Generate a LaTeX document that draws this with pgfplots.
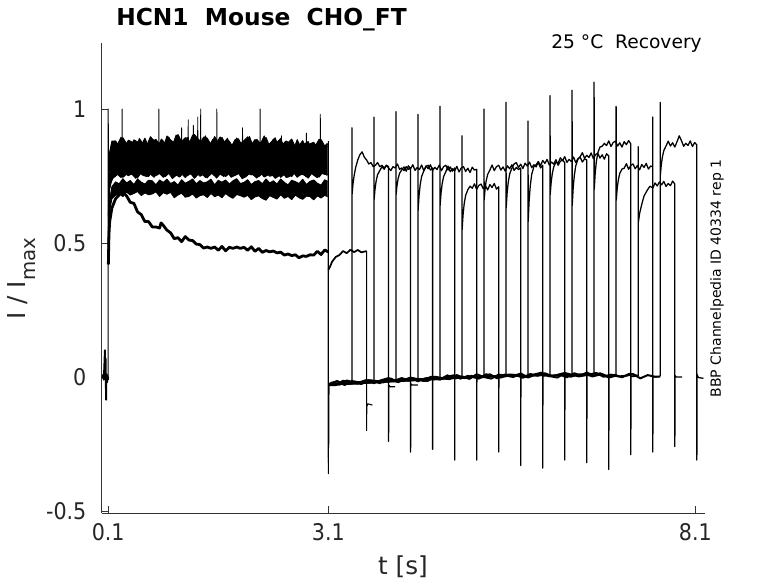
\documentclass[border=0pt]{standalone}
\usepackage{fontspec}
\setmainfont{DejaVu Sans}
\newfontfamily\condfont[FakeStretch=0.9]{DejaVu Sans}
\usepackage{pgfplots}
\pgfplotsset{compat=1.18}
\usepackage{pgfplotstable}
\usepgfplotslibrary{fillbetween}

\pgfplotstableread{
t U L A B
0.102 0.60 0.50 0.48 0.46
0.12 0.84 0.70 0.66 0.62
0.15 0.88 0.74 0.71 0.665
0.20 0.881 0.749 0.728 0.678
0.25 0.861 0.765 0.721 0.684
0.30 0.893 0.745 0.740 0.673
0.35 0.871 0.757 0.724 0.690
0.40 0.857 0.762 0.733 0.679
0.45 0.885 0.750 0.718 0.685
0.50 0.877 0.743 0.739 0.692
0.55 0.865 0.763 0.727 0.677
0.60 0.891 0.755 0.720 0.687
0.65 0.859 0.748 0.734 0.680
0.70 0.879 0.767 0.732 0.683
0.75 0.887 0.751 0.717 0.691
0.80 0.867 0.760 0.735 0.674
0.85 0.855 0.745 0.726 0.688
0.90 0.899 0.766 0.738 0.682
0.95 0.885 0.754 0.722 0.689
1.00 0.873 0.747 0.729 0.669
1.05 0.905 0.761 0.716 0.679
1.10 0.879 0.759 0.736 0.686
1.15 0.893 0.744 0.723 0.671
1.20 0.869 0.762 0.730 0.674
1.25 0.903 0.753 0.739 0.683
1.30 0.883 0.765 0.721 0.668
1.35 0.871 0.749 0.733 0.677
1.40 0.895 0.756 0.724 0.680
1.45 0.891 0.743 0.728 0.670
1.50 0.867 0.763 0.738 0.685
1.55 0.897 0.750 0.717 0.673
1.60 0.874 0.757 0.734 0.679
1.65 0.894 0.766 0.727 0.669
1.70 0.868 0.748 0.735 0.685
1.75 0.880 0.760 0.720 0.674
1.80 0.858 0.751 0.732 0.667
1.85 0.892 0.755 0.740 0.681
1.90 0.870 0.765 0.722 0.677
1.95 0.882 0.744 0.726 0.671
2.00 0.896 0.761 0.736 0.678
2.05 0.866 0.754 0.718 0.662
2.10 0.886 0.762 0.729 0.672
2.15 0.872 0.747 0.733 0.676
2.20 0.878 0.759 0.721 0.666
2.25 0.894 0.767 0.739 0.660
2.30 0.860 0.749 0.724 0.677
2.35 0.888 0.753 0.732 0.670
2.40 0.876 0.763 0.720 0.664
2.45 0.890 0.745 0.739 0.680
2.50 0.854 0.756 0.726 0.667
2.55 0.874 0.760 0.717 0.674
2.60 0.888 0.748 0.734 0.662
2.65 0.858 0.766 0.729 0.679
2.70 0.864 0.751 0.722 0.669
2.75 0.882 0.759 0.738 0.663
2.80 0.852 0.747 0.718 0.675
2.85 0.870 0.766 0.730 0.673
2.90 0.876 0.753 0.735 0.661
2.95 0.856 0.744 0.723 0.676
3.00 0.886 0.761 0.716 0.668
3.05 0.862 0.756 0.736 0.678
3.09 0.870 0.755 0.730 0.673
}\condtab

\pgfplotstableread{
t U L
0.13 0.85 0.72
0.175 0.872 0.748
0.225 0.868 0.756
0.275 0.895 0.744
0.325 0.862 0.759
0.375 0.884 0.751
0.425 0.877 0.758
0.475 0.857 0.741
0.525 0.890 0.762
0.575 0.871 0.752
0.625 0.864 0.748
0.675 0.897 0.757
0.725 0.882 0.745
0.775 0.860 0.763
0.825 0.888 0.754
0.875 0.873 0.747
0.925 0.896 0.760
0.975 0.865 0.740
1.025 0.903 0.753
1.075 0.885 0.746
1.125 0.878 0.762
1.175 0.894 0.750
1.225 0.872 0.759
1.275 0.905 0.741
1.325 0.889 0.756
1.375 0.876 0.758
1.425 0.900 0.744
1.475 0.863 0.751
1.525 0.887 0.763
1.575 0.874 0.742
1.625 0.896 0.757
1.675 0.874 0.748
1.725 0.891 0.764
1.775 0.858 0.745
1.825 0.885 0.752
1.875 0.889 0.760
1.925 0.863 0.740
1.975 0.876 0.747
2.025 0.898 0.759
2.075 0.860 0.754
2.125 0.887 0.742
2.175 0.871 0.762
2.225 0.900 0.746
2.275 0.865 0.753
2.325 0.878 0.758
2.375 0.893 0.741
2.425 0.856 0.750
2.475 0.869 0.763
2.525 0.881 0.744
2.575 0.872 0.748
2.625 0.850 0.763
2.675 0.886 0.745
2.725 0.857 0.757
2.775 0.870 0.753
2.825 0.879 0.742
2.875 0.848 0.760
2.925 0.864 0.750
2.975 0.888 0.746
3.025 0.853 0.764
3.085 0.872 0.752
}\condtabb

\begin{document}
\begin{tikzpicture}
\begin{axis}[
  at={(0pt,0pt)}, anchor=south west,
  scale only axis, width=452.475pt, height=352.5pt,
  xmin=0.0114, xmax=8.231, ymin=-0.5075, ymax=1.2463,
  axis x line*=bottom, axis y line*=left,
  axis line style={black!80, line width=0.5pt},
  tick align=inside, major tick length=5pt,
  tick style={black!80, line width=0.5pt},
  xtick={0.1,3.1,8.1}, xticklabels={0.1,3.1,8.1},
  ytick={-0.5,0,0.5,1}, yticklabels={-0.5,0,0.5,1},
  ticklabel style={font=\condfont\fontsize{17.2}{20}\selectfont, text=black!85},
  yticklabel style={xshift=-8pt},
  xticklabel style={yshift=-4pt},
  xlabel={t [s]},
  xlabel style={at={(axis description cs:0.4994,-0.1319)}, anchor=base, font=\fontsize{18.5}{22}\selectfont, text=black!85},
  ylabel={I / I\raisebox{-0.44em}{\fontsize{14.8}{16}\selectfont max}},
  ylabel style={at={(axis description cs:-0.1271,0.4989)}, anchor=base, rotate=0, font=\fontsize{18.5}{22}\selectfont, text=black!85},
  clip mode=individual,
  cycle list={{black}},
  no markers,
  every axis plot/.append style={black, line width=0.95pt, line join=round},
]
% conditioning band
\addplot[name path=U, line width=0.7pt] table[x=t,y=U]{\condtab};
\addplot[name path=L, line width=0.7pt] table[x=t,y=L]{\condtab};
\addplot[black] fill between[of=U and L];
\addplot[name path=U2, line width=0.6pt] table[x=t,y=U]{\condtabb};
\addplot[name path=L2, line width=0.6pt] table[x=t,y=L]{\condtabb};
\addplot[black] fill between[of=U2 and L2];
\addplot[name path=A, line width=0.7pt] table[x=t,y=A]{\condtab};
\addplot[name path=B, line width=0.7pt] table[x=t,y=B]{\condtab};
\addplot[black] fill between[of=A and B];
% spikes during conditioning
\addplot[line width=0.6pt] coordinates {(0.2,0.86)(0.287,0.86)(0.29,1.0)(0.293,0.86)(0.787,0.86)(0.79,1.0)(0.793,0.86)(1.097,0.86)(1.10,0.93)(1.103,0.86)(1.187,0.86)(1.19,0.96)(1.193,0.86)(1.257,0.86)(1.26,0.94)(1.263,0.86)(1.317,0.86)(1.32,0.97)(1.323,0.86)(1.357,0.86)(1.36,1.0)(1.363,0.86)(1.577,0.86)(1.58,1.0)(1.583,0.86)(1.927,0.86)(1.93,0.93)(1.933,0.86)(2.167,0.86)(2.17,1.0)(2.173,0.86)(2.457,0.86)(2.46,0.90)(2.463,0.86)(2.797,0.86)(2.80,0.91)(2.803,0.86)(2.987,0.86)(2.99,0.98)(2.993,0.86)(3.09,0.86)};
% pre-pulse baseline and onset
\addplot[line width=1.4pt] coordinates {(0.015,-0.005)(0.03,0.008)(0.04,-0.01)(0.05,0.06)(0.055,0.10)(0.06,0.02)(0.064,0.07)(0.068,-0.02)(0.071,-0.085)(0.074,-0.01)(0.08,0.01)(0.085,-0.02)(0.09,0.005)(0.095,-0.01)(0.1,0.0)};
\addplot[line width=0.8pt] coordinates {(0.1,0.0)(0.1,1.0)(0.102,0.42)(0.11,0.53)(0.12,0.58)(0.15,0.63)(0.2,0.665)(0.25,0.68)(0.3,0.69)};
% decaying sweep
\addplot[line width=2.1pt] coordinates {(0.102,0.42)(0.11,0.53)(0.12,0.58)(0.15,0.63)(0.2,0.665)(0.25,0.68)(0.30,0.690)(0.35,0.676)(0.40,0.652)(0.45,0.648)(0.50,0.616)(0.55,0.606)(0.60,0.580)(0.65,0.580)(0.70,0.560)(0.75,0.560)(0.80,0.556)(0.82,0.575)(0.85,0.566)(0.90,0.548)(0.95,0.538)(1.00,0.516)(1.05,0.520)(1.10,0.505)(1.15,0.524)(1.20,0.511)(1.25,0.509)(1.30,0.496)(1.35,0.494)(1.40,0.481)(1.45,0.485)(1.50,0.480)(1.55,0.485)(1.60,0.473)(1.65,0.487)(1.70,0.471)(1.75,0.484)(1.80,0.480)(1.85,0.485)(1.90,0.480)(1.95,0.484)(2.00,0.473)(2.05,0.486)(2.10,0.469)(2.15,0.480)(2.20,0.465)(2.25,0.472)(2.30,0.467)(2.35,0.470)(2.40,0.463)(2.45,0.466)(2.50,0.455)(2.55,0.459)(2.60,0.453)(2.65,0.456)(2.70,0.445)(2.75,0.452)(2.80,0.450)(2.85,0.456)(2.90,0.455)(2.95,0.469)(3.00,0.457)(3.05,0.474)(3.09,0.468)(3.1,0.47)};
\addplot[line width=0.8pt] coordinates {(3.1,0.47)(3.1,-0.36)(3.1,0.40)};
\addplot[line width=1.3pt] coordinates {(3.1,0.40)(3.12,0.41)(3.15,0.43)(3.2,0.448)(3.25,0.455)(3.3,0.47)(3.35,0.462)(3.4,0.475)(3.45,0.466)(3.5,0.474)(3.55,0.465)(3.62,0.47)};
\addplot[line width=0.8pt] coordinates {(3.62,0.47)(3.62,-0.20)(3.623,-0.11)(3.64,-0.10)(3.70,-0.105)};
% sweeps with test pulses
\addplot coordinates {(3.103,-0.03)(3.2,-0.022)(3.3,-0.026)(3.42,-0.02)(3.42,0.93)(3.422,0.68)(3.435,0.72)(3.45,0.75)(3.47,0.78)(3.50,0.81)(3.53,0.83)(3.56,0.84)(3.59,0.82)(3.62,0.81)(3.65,0.795)(3.68,0.80)(3.71,0.785)(3.74,0.79)(3.77,0.80)(3.80,0.785)(3.83,0.79)(3.86,0.78)(3.89,0.79)(3.92,0.785)(3.92,-0.24)(3.923,-0.03)(3.94,-0.036)(4.01,-0.036)};
\addplot coordinates {(3.103,-0.028)(3.3,-0.02)(3.5,-0.024)(3.72,-0.017)(3.72,0.97)(3.722,0.66)(3.735,0.70)(3.75,0.73)(3.77,0.755)(3.80,0.77)(3.83,0.785)(3.86,0.775)(3.89,0.79)(3.92,0.78)(3.95,0.77)(3.98,0.785)(4.01,0.78)(4.04,0.795)(4.07,0.775)(4.10,0.78)(4.13,0.77)(4.16,0.785)(4.19,0.775)(4.22,0.78)(4.22,-0.28)(4.223,-0.025)(4.24,-0.03)(4.32,-0.03)};
\addplot coordinates {(3.103,-0.03)(3.5,-0.02)(4.02,-0.012)(4.02,0.99)(4.022,0.68)(4.035,0.715)(4.05,0.74)(4.07,0.76)(4.10,0.773)(4.13,0.784)(4.16,0.768)(4.19,0.788)(4.22,0.777)(4.25,0.792)(4.28,0.771)(4.31,0.782)(4.34,0.774)(4.37,0.791)(4.40,0.77)(4.43,0.785)(4.46,0.79)(4.49,0.772)(4.52,0.78)(4.52,-0.27)(4.523,-0.005)(4.54,-0.01)(4.62,-0.008)};
\addplot coordinates {(3.103,-0.03)(3.6,-0.018)(4.32,-0.008)(4.32,0.98)(4.322,0.62)(4.335,0.676)(4.35,0.716)(4.37,0.748)(4.40,0.769)(4.43,0.788)(4.46,0.777)(4.49,0.792)(4.52,0.771)(4.55,0.782)(4.58,0.774)(4.61,0.791)(4.64,0.77)(4.67,0.785)(4.70,0.79)(4.73,0.772)(4.76,0.784)(4.79,0.768)(4.82,0.78)(4.82,-0.31)(4.823,0.0)(4.84,-0.005)(4.92,-0.004)};
\addplot coordinates {(3.103,-0.03)(3.8,-0.015)(4.62,-0.004)(4.62,1.01)(4.622,0.64)(4.635,0.687)(4.65,0.721)(4.67,0.748)(4.70,0.766)(4.73,0.787)(4.76,0.766)(4.79,0.777)(4.82,0.769)(4.85,0.786)(4.88,0.765)(4.91,0.78)(4.94,0.785)(4.97,0.767)(5.00,0.779)(5.03,0.763)(5.06,0.783)(5.09,0.772)(5.12,0.775)(5.12,-0.31)(5.123,0.0)(5.14,-0.003)(5.22,-0.002)};
\addplot coordinates {(3.103,-0.03)(4.0,-0.012)(4.92,-0.001)(4.92,0.90)(4.922,0.55)(4.935,0.606)(4.95,0.646)(4.97,0.678)(5.00,0.699)(5.03,0.712)(5.06,0.704)(5.09,0.721)(5.12,0.70)(5.15,0.715)(5.18,0.72)(5.21,0.702)(5.24,0.714)(5.27,0.698)(5.30,0.718)(5.33,0.707)(5.36,0.722)(5.39,0.701)(5.42,0.71)(5.42,-0.28)(5.423,0.002)(5.44,0.0)(5.52,0.001)};
\addplot coordinates {(3.103,-0.03)(4.2,-0.009)(5.22,0.002)(5.22,1.00)(5.222,0.66)(5.235,0.702)(5.25,0.732)(5.27,0.756)(5.30,0.772)(5.33,0.791)(5.36,0.77)(5.39,0.785)(5.42,0.79)(5.45,0.772)(5.48,0.784)(5.51,0.768)(5.54,0.788)(5.57,0.777)(5.60,0.792)(5.63,0.771)(5.66,0.782)(5.69,0.774)(5.72,0.78)(5.72,-0.33)(5.723,0.004)(5.74,0.002)(5.82,0.003)};
\addplot coordinates {(3.103,-0.03)(4.5,-0.005)(5.52,0.004)(5.52,1.025)(5.522,0.63)(5.535,0.686)(5.55,0.726)(5.57,0.758)(5.60,0.779)(5.63,0.795)(5.66,0.80)(5.69,0.782)(5.72,0.794)(5.75,0.778)(5.78,0.798)(5.81,0.787)(5.84,0.802)(5.87,0.781)(5.90,0.792)(5.93,0.784)(5.96,0.801)(5.99,0.78)(6.02,0.79)(6.02,-0.34)(6.023,0.006)(6.04,0.004)(6.12,0.005)};
\addplot coordinates {(3.103,-0.03)(4.8,-0.002)(5.82,0.006)(5.82,0.955)(5.822,0.58)(5.835,0.657)(5.85,0.712)(5.87,0.756)(5.90,0.785)(5.93,0.792)(5.96,0.804)(5.99,0.788)(6.02,0.808)(6.05,0.797)(6.08,0.812)(6.11,0.791)(6.14,0.802)(6.17,0.794)(6.20,0.811)(6.23,0.79)(6.26,0.805)(6.29,0.81)(6.32,0.80)(6.32,-0.31)(6.323,0.008)(6.34,0.006)(6.42,0.007)};
\addplot coordinates {(3.103,-0.03)(5.0,0.0)(6.12,0.007)(6.12,1.05)(6.122,0.68)(6.135,0.726)(6.15,0.758)(6.17,0.784)(6.20,0.801)(6.23,0.798)(6.26,0.818)(6.29,0.807)(6.32,0.822)(6.35,0.801)(6.38,0.812)(6.41,0.804)(6.44,0.821)(6.47,0.80)(6.50,0.815)(6.53,0.82)(6.56,0.802)(6.59,0.814)(6.62,0.81)(6.62,-0.32)(6.623,0.008)(6.64,0.006)(6.72,0.007)};
\addplot coordinates {(3.103,-0.03)(5.2,0.002)(6.42,0.008)(6.42,1.07)(6.422,0.64)(6.435,0.705)(6.45,0.751)(6.47,0.788)(6.50,0.812)(6.53,0.822)(6.56,0.837)(6.59,0.816)(6.62,0.827)(6.65,0.819)(6.68,0.836)(6.71,0.815)(6.74,0.83)(6.77,0.835)(6.80,0.817)(6.83,0.829)(6.86,0.813)(6.89,0.833)(6.92,0.825)(6.92,-0.345)(6.923,0.006)(6.94,0.004)(7.02,0.005)};
\addplot coordinates {(3.103,-0.03)(5.5,0.004)(6.72,0.007)(6.72,1.10)(6.722,0.70)(6.735,0.76)(6.75,0.802)(6.77,0.836)(6.80,0.858)(6.83,0.861)(6.86,0.872)(6.89,0.864)(6.92,0.881)(6.95,0.86)(6.98,0.875)(7.01,0.88)(7.04,0.862)(7.07,0.874)(7.10,0.858)(7.13,0.878)(7.16,0.867)(7.19,0.882)(7.22,0.87)(7.22,-0.29)(7.223,0.004)(7.24,0.002)(7.32,0.003)};
% sweep 13
\addplot[line width=0.8pt] coordinates {(3.1,0.80)(3.1,-0.3)(3.105,-0.028)};
\addplot[line width=1.5pt] coordinates {(3.105,-0.028)(3.12,-0.025)(3.22,-0.015)(3.32,-0.030)(3.42,-0.015)(3.52,-0.020)(3.62,-0.012)(3.72,-0.023)(3.82,-0.012)(3.92,-0.004)(4.02,-0.017)(4.12,-0.013)(4.22,-0.002)(4.32,-0.016)(4.42,-0.005)(4.52,-0.001)(4.62,-0.010)(4.72,0.006)(4.82,-0.005)(4.92,0.002)(5.02,-0.007)(5.12,0.010)(5.22,0.0)(5.32,-0.006)(5.42,0.009)(5.52,0.005)(5.62,0.0)(5.72,0.013)(5.82,-0.002)(5.92,0.009)(6.02,0.013)(6.12,0.003)(6.22,-0.002)(6.32,0.015)(6.42,0.008)(6.52,0.002)(6.62,0.017)(6.72,0.004)(6.82,0.010)(6.92,-0.002)(7.02,0.005)};
\addplot coordinates {(7.02,0.005)(7.02,1.01)(7.022,0.66)(7.035,0.704)(7.05,0.735)(7.07,0.76)(7.10,0.776)(7.13,0.779)(7.16,0.796)(7.19,0.775)(7.22,0.79)(7.25,0.795)(7.28,0.777)(7.31,0.789)(7.34,0.773)(7.37,0.793)(7.40,0.782)(7.43,0.797)(7.46,0.776)(7.49,0.787)(7.52,0.785)(7.52,0.97)(7.52,-0.28)(7.523,0.002)(7.54,0.0)(7.62,0.001)};
% sweep 14
\addplot[line width=0.8pt] coordinates {(3.1,0.75)(3.1,-0.32)(3.105,-0.03)};
\addplot[line width=1.5pt] coordinates {(3.105,-0.03)(3.20,-0.030)(3.30,-0.014)(3.40,-0.021)(3.50,-0.025)(3.60,-0.013)(3.70,-0.014)(3.80,-0.023)(3.90,-0.009)(4.00,-0.014)(4.10,-0.004)(4.20,-0.014)(4.30,-0.007)(4.40,-0.015)(4.50,0.001)(4.60,-0.008)(4.70,-0.001)(4.80,0.006)(4.90,-0.006)(5.00,0.004)(5.10,-0.002)(5.20,0.002)(5.30,0.010)(5.40,-0.005)(5.50,0.009)(5.60,0.004)(5.70,0.010)(5.80,0.0)(5.90,0.009)(6.00,0.016)(6.10,0.003)(6.20,0.006)(6.30,0.014)(6.40,0.001)(6.50,0.009)(6.60,0.011)(6.70,0.002)(6.80,0.014)(6.90,0.003)(7.00,0.008)(7.10,-0.001)(7.20,0.012)(7.32,0.004)};
\addplot coordinates {(7.32,0.004)(7.32,0.86)(7.322,0.575)(7.34,0.61)(7.37,0.645)(7.40,0.675)(7.44,0.695)(7.48,0.712)(7.52,0.705)(7.55,0.724)(7.58,0.713)(7.61,0.728)(7.64,0.717)(7.67,0.73)(7.70,0.711)(7.73,0.722)(7.76,0.714)(7.79,0.731)(7.82,0.72)(7.82,-0.26)(7.823,0.005)(7.84,0.0)(7.92,0.0)};
% sweep 15
\addplot[line width=0.8pt] coordinates {(3.1,0.88)(3.1,-0.36)(3.103,-0.03)};
\addplot[line width=1.5pt] coordinates {(3.103,-0.03)(3.15,-0.021)(3.25,-0.028)(3.35,-0.013)(3.45,-0.021)(3.55,-0.026)(3.65,-0.012)(3.75,-0.015)(3.85,-0.020)(3.95,-0.006)(4.05,-0.019)(4.15,-0.008)(4.25,-0.004)(4.35,-0.011)(4.45,-0.015)(4.55,0.001)(4.65,-0.004)(4.75,-0.008)(4.85,0.007)(4.95,-0.004)(5.05,0.004)(5.15,-0.006)(5.25,0.010)(5.35,0.002)(5.45,-0.002)(5.55,0.009)(5.65,0.008)(5.75,-0.003)(5.85,0.011)(5.95,0.005)(6.05,0.014)(6.15,0.003)(6.25,0.009)(6.35,-0.001)(6.45,0.014)(6.55,0.004)(6.65,0.009)(6.75,0.015)(6.85,0.001)(6.95,0.009)(7.05,0.002)(7.15,0.004)(7.25,0.011)(7.35,-0.005)(7.45,0.007)(7.55,0.001)(7.62,0.002)};
\addplot coordinates {(7.62,0.002)(7.62,1.025)(7.622,0.75)(7.635,0.79)(7.65,0.82)(7.67,0.845)(7.70,0.862)(7.73,0.88)(7.76,0.862)(7.79,0.874)(7.82,0.858)(7.85,0.878)(7.88,0.90)(7.91,0.882)(7.94,0.861)(7.97,0.872)(8.00,0.864)(8.03,0.881)(8.06,0.86)(8.09,0.875)(8.12,0.866)(8.12,-0.31)(8.123,0.01)(8.14,-0.002)(8.21,-0.005)};
% texts
\node[anchor=base, font=\bfseries\fontsize{17.5}{20}\selectfont, text=black] at (axis description cs:0.2649,1.0383) {HCN1\ \ Mouse\ \ CHO\_FT};
\node[anchor=base, font=\fontsize{14}{16}\selectfont, text=black] at (axis description cs:0.8699,0.9887) {25 °C\ \ Recovery};
\node[anchor=base, rotate=90, font=\fontsize{10.5}{12}\selectfont, text=black] at (axis description cs:1.0265,0.4989) {BBP Channelpedia ID 40334 rep 1};
\end{axis}
\pgfresetboundingbox
\path[use as bounding box] (-76.275pt,-52.5pt) rectangle (507.225pt,384.75pt);
\end{tikzpicture}
\end{document}
